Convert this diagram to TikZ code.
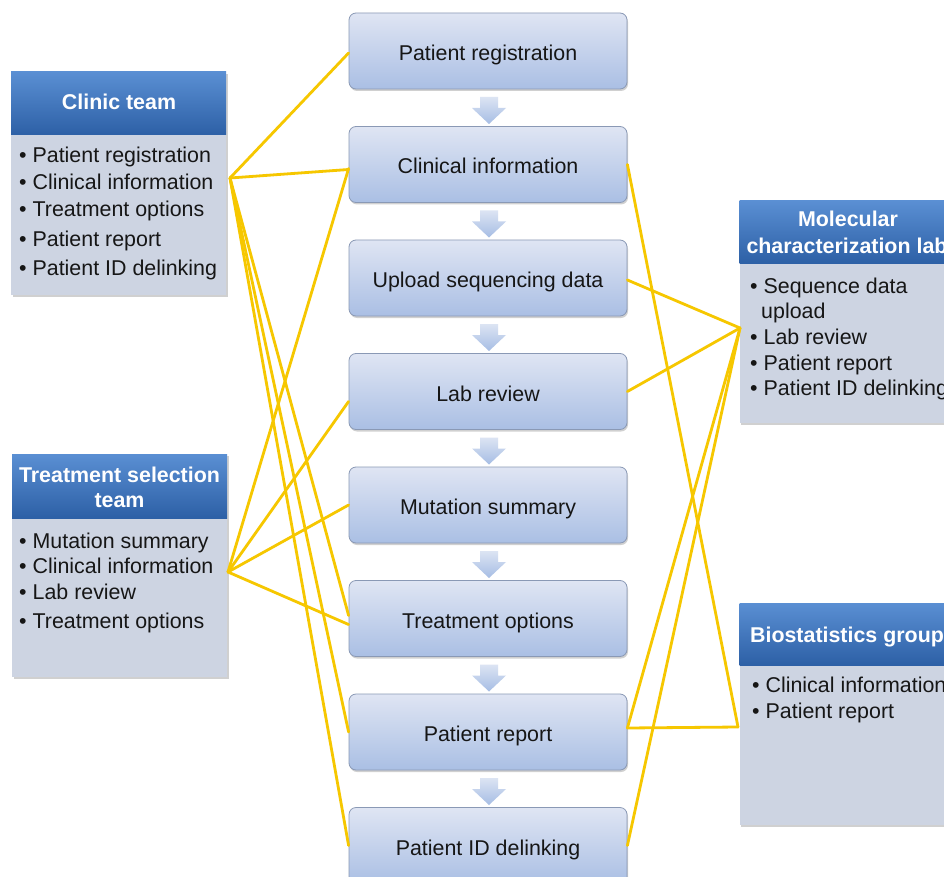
\documentclass[tikz,border=0pt]{standalone}
\usepackage{fontspec}
\setmainfont{Liberation Sans}
\usetikzlibrary{shadows}
\definecolor{hdtop}{HTML}{5A8FD3}
\definecolor{hdbot}{HTML}{2D60A6}
\definecolor{bodyc}{HTML}{CDD4E2}
\definecolor{boxtop}{HTML}{DFE5F3}
\definecolor{boxbot}{HTML}{AABFE4}
\definecolor{boxline}{HTML}{8A99B5}
\definecolor{linkc}{HTML}{F6C700}
\definecolor{txtc}{HTML}{161616}
\definecolor{arrtop}{HTML}{DCE4F3}
\definecolor{arrbot}{HTML}{A6BDE4}
\newcommand{\itemfont}{\fontsize{21.4}{27}\selectfont}
\begin{document}
\begin{tikzpicture}[x=1pt,y=-1pt,
 stepbox/.style={draw=boxline, line width=0.8pt, rounded corners=7pt, top color=boxtop, bottom color=boxbot, minimum width=278pt, minimum height=76pt, inner sep=0pt, font=\itemfont, text=txtc, text height=19pt, text depth=0pt, drop shadow={shadow xshift=1pt, shadow yshift=-2pt, opacity=0.3, fill=black!60}},
 hdr/.style={top color=hdtop, bottom color=hdbot, minimum width=215pt, inner sep=0pt, draw=none},
 bodybox/.style={fill=bodyc, minimum width=215pt, inner sep=0pt, drop shadow={shadow xshift=1.5pt, shadow yshift=-2pt, opacity=0.3, fill=black!60}},
 hdtext/.style={anchor=base, font=\itemfont\bfseries, text=white, inner sep=0pt},
 item/.style={anchor=base west, font=\itemfont, text=txtc, inner sep=0pt},
 link/.style={draw=linkc, line width=2.8pt, line cap=round},
 downarr/.style={top color=arrtop, bottom color=arrbot, draw=none}
]
\useasboundingbox (0,0) rectangle (944,877);
\clip (0,0) rectangle (944,877);
\fill[white] (0,0) rectangle (944,877);

% central workflow
\foreach \t/\y [count=\i] in {Patient registration/51, Clinical information/164.5, Upload sequencing data/278, Lab review/391.5, Mutation summary/505, Treatment options/618.5, Patient report/732, Patient ID delinking/845.5}
  \node[stepbox] (s\i) at (488,\y) {\t};

\foreach \y in {51,164.5,278,391.5,505,618.5,732}
  \shade[downarr] (480,\y+46) -- (498,\y+46) -- (498,\y+57) -- (506,\y+57) -- (489,\y+73) -- (472,\y+57) -- (480,\y+57) -- cycle;

% Clinic team
\node[bodybox, minimum height=223pt] (clinicbd) at (118.5,183.5) {};
\node[hdr, minimum height=63pt] (clinichd) at (118.5,103.5) {};
\node[hdtext] (clinicht) at (119,110) {Clinic team};
\foreach \t/\y [count=\i] in {Patient registration/163, Clinical information/190, Treatment options/217, Patient report/247, Patient ID delinking/275}
  \node[item] (ci\i) at (19,\y) {• \t};

% Treatment selection team
\node[bodybox, minimum height=223pt] (treatbd) at (119.5,565.5) {};
\node[hdr, minimum height=64pt] (treathd) at (119.5,486) {};
\node[hdtext] (treatht1) at (119.5,482) {Treatment selection};
\node[hdtext] (treatht2) at (119.5,507) {team};
\foreach \t/\y [count=\i] in {Mutation summary/548, Clinical information/573, Lab review/599, Treatment options/628}
  \node[item] (ti\i) at (19,\y) {• \t};

% Molecular characterization lab
\node[bodybox, minimum height=222pt] (molbd) at (847,312) {};
\node[hdr, minimum height=62pt] (molhd) at (847,232) {};
\node[hdtext] (molht1) at (848,227) {Molecular};
\node[hdtext] (molht2) at (847,253) {characterization lab};
\node[item] (mi1) at (750,293) {• Sequence data};
\node[item] (mi1b) at (761,318) {upload};
\node[item] (mi2) at (750,344) {• Lab review};
\node[item] (mi3) at (750,370) {• Patient report};
\node[item] (mi4) at (750,395) {• Patient ID delinking};

% Biostatistics group
\node[bodybox, minimum height=222pt] (biobd) at (847,714) {};
\node[hdr, minimum height=62pt] (biohd) at (847,634) {};
\node[hdtext] (bioht) at (847,642) {Biostatistics group};
\node[item] (bi1) at (752,692) {• Clinical information};
\node[item] (bi2) at (752,718) {• Patient report};

% connector hubs
\coordinate (cA) at (230,178);
\coordinate (tA) at (228,572);
\coordinate (mA) at (740,328);
\coordinate (bA) at (738,727);

\draw[link] (cA) -- ([yshift=-2pt]s1.west);
\draw[link] (cA) -- ([yshift=-5pt]s2.west);
\draw[link] (cA) -- ([yshift=3pt]s6.west);
\draw[link] (cA) -- (s7.west);
\draw[link] (cA) -- (s8.west);
\draw[link] (tA) -- ([yshift=-4pt]s2.west);
\draw[link] (tA) -- ([yshift=-10pt]s4.west);
\draw[link] (tA) -- (s5.west);
\draw[link] (tA) -- ([yshift=-6pt]s6.west);
\draw[link] (mA) -- ([yshift=-2pt]s3.east);
\draw[link] (mA) -- (s4.east);
\draw[link] (mA) -- ([yshift=4pt]s7.east);
\draw[link] (mA) -- (s8.east);
\draw[link] (bA) -- (s2.east);
\draw[link] (bA) -- ([yshift=4pt]s7.east);
\end{tikzpicture}
\end{document}
